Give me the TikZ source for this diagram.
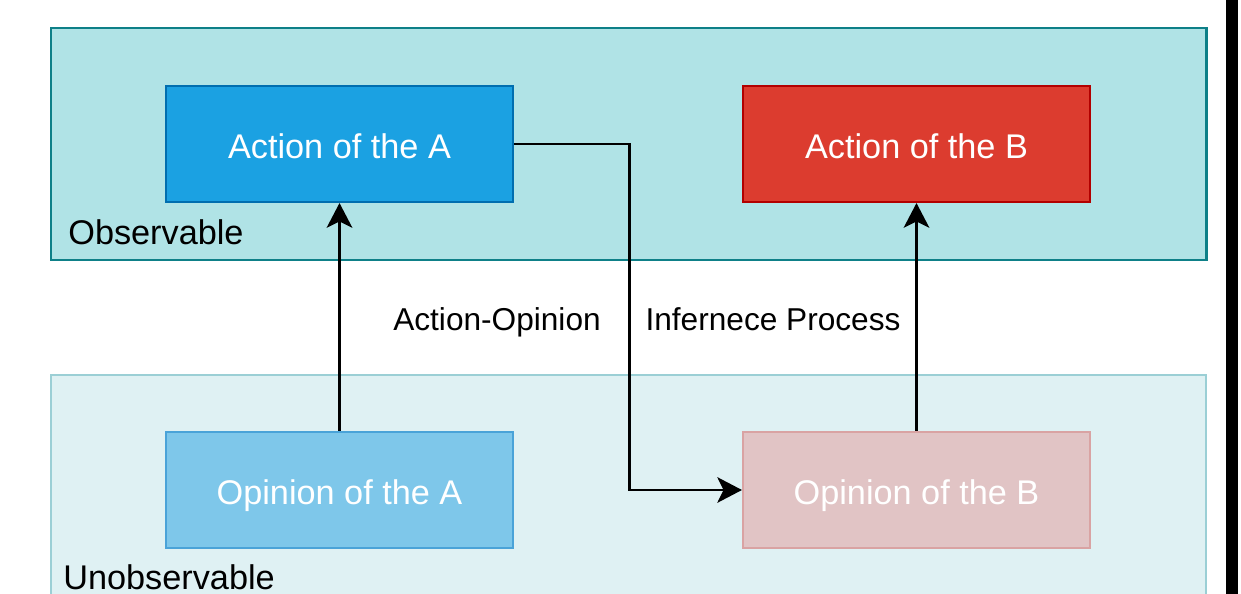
\documentclass[tikz,border=0pt]{standalone}
\usepackage{fontspec}
\setmainfont{Liberation Sans}
\usetikzlibrary{arrows.meta}

\definecolor{obsfill}{HTML}{B0E3E6}
\definecolor{obsline}{HTML}{0E8088}
\definecolor{unobsfill}{HTML}{DFF1F3}
\definecolor{unobsline}{HTML}{9BCFD5}
\definecolor{afill}{HTML}{1BA1E2}
\definecolor{aline}{HTML}{006EAF}
\definecolor{bfill}{HTML}{DC3C2F}
\definecolor{bline}{HTML}{B20000}
\definecolor{opafill}{HTML}{7EC7EA}
\definecolor{opaline}{HTML}{4AA3D8}
\definecolor{opbfill}{HTML}{E1C4C5}
\definecolor{opbline}{HTML}{D9A3A3}

\tikzset{
  box/.style={draw, line width=1.2pt, minimum width=6.94cm, minimum height=2.32cm,
    inner sep=0pt, text height=16.8pt, text depth=0pt, text=white,
    font=\fontsize{19.5}{23}\selectfont},
  flow/.style={-{Stealth[length=14pt,width=14.5pt,inset=3.5pt]}, line width=1.7pt},
  lbl/.style={font=\fontsize{19.5}{23}\selectfont, inner sep=0pt},
  midlbl/.style={font=\fontsize{18}{22}\selectfont, inner sep=0pt, anchor=base}
}

\begin{document}
\begin{tikzpicture}[x=0.02cm, y=-0.02cm]
    \useasboundingbox (0,0) rectangle (1241,594);
    \clip (0,0) rectangle (1241,594);
    % the two layers
    \draw[fill=obsfill, draw=obsline, line width=1.7pt] (51,28) rectangle (1206,260);
    \draw[fill=unobsfill, draw=unobsline, line width=1.3pt] (51,375) rectangle (1206,620);
    \node[lbl, anchor=west] (obs) at (68,232) {Observable};
    \node[lbl, anchor=west] (unobs) at (63,577) {Unobservable};
    % boxes
    \node[box, fill=afill, draw=aline] (actA) at (339.5,144) {Action of the A};
    \node[box, fill=bfill, draw=bline] (actB) at (916.5,144) {Action of the B};
    \node[box, fill=opafill, draw=opaline] (opA) at (339.5,490) {Opinion of the A};
    \node[box, fill=opbfill, draw=opbline] (opB) at (916.5,490) {Opinion of the B};
    % arrows
    \draw[flow] (opA) -- (actA);
    \draw[flow] (opB) -- (actB);
    \draw[flow] (actA.east) -- ++(115,0) |- (opB.west);
    \node[midlbl] (ao) at (497,331) {Action-Opinion};
    \node[midlbl] (ip) at (773,331) {Infernece Process};
    \fill (1226,0) rectangle (1238,594);
\end{tikzpicture}
\end{document}
